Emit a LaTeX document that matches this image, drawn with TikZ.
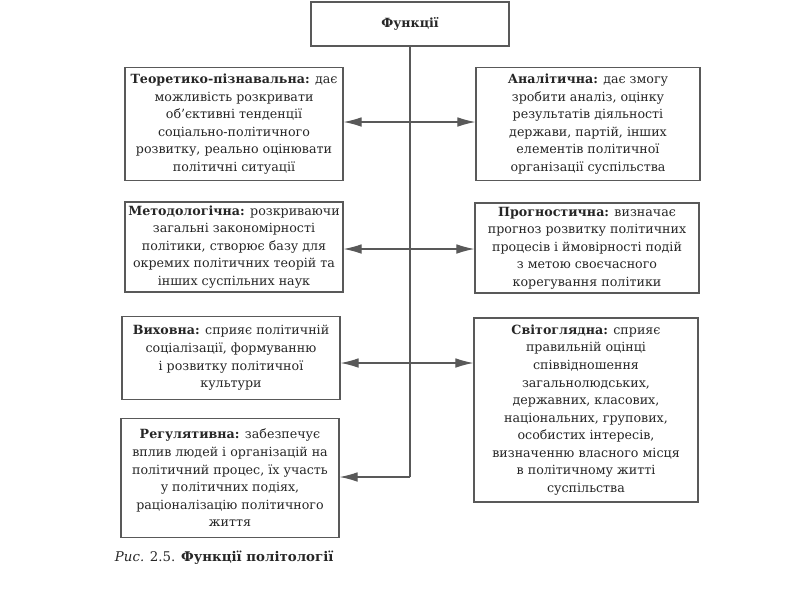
\documentclass[tikz,border=0pt]{standalone}
\usepackage{fontspec}
\setmainfont{DejaVu Serif}
\usepackage{tikz}
\usetikzlibrary{arrows.meta, positioning, calc}
\tikzset{
	func/.style={rectangle, draw=black!65, line width=0.8pt, text=black!85, align=center,
		inner sep=2pt, font=\fontsize{9}{12.5}\selectfont},
	leftfunc/.style={func, minimum width=5.45cm},
	rightfunc/.style={func, minimum width=5.6cm},
	head/.style={func, minimum width=4.95cm, minimum height=1.1cm, font=\fontsize{9}{12.5}\selectfont\bfseries},
	caption/.style={text=black!85, font=\fontsize{9.5}{12}\selectfont},
	line/.style={draw=black!65, line width=0.8pt},
	tip/.style={-{Latex[length=4.5mm,width=2.4mm]}},
	link/.style={line, {Latex[length=4.5mm,width=2.4mm]}-{Latex[length=4.5mm,width=2.4mm]}}
}

\begin{document}
\begin{tikzpicture}[x=0.025cm, y=-0.025cm]
	\useasboundingbox (0,0) rectangle (800,600);
	% Head
	\node[head] (top) at (410,24) {Функції};
	
	% Left column
	\node[leftfunc, minimum height=2.83cm] (L-1) at (234,124) {\textbf{Теоретико-пізнавальна:} дає\\можливість розкривати\\об’єктивні тенденції\\соціально-політичного\\розвитку, реально оцінювати\\політичні ситуації};
	\node[leftfunc, minimum height=2.25cm] (L-2) at (234,247) {\textbf{Методологічна:} розкриваючи\\загальні закономірності\\політики, створює базу для\\окремих політичних теорій та\\інших суспільних наук};
	\node[leftfunc, minimum height=2.08cm] (L-3) at (231,358) {\textbf{Виховна:} сприяє політичній\\соціалізації, формуванню\\і розвитку політичної\\культури};
	\node[leftfunc, minimum height=2.98cm] (L-4) at (230,478) {\textbf{Регулятивна:} забезпечує\\вплив людей і організацій на\\політичний процес, їх участь\\у політичних подіях,\\раціоналізацію політичного\\життя};
	
	% Right column
	\node[rightfunc, minimum height=2.83cm] (R-1) at (588,124) {\textbf{Аналітична:} дає змогу\\зробити аналіз, оцінку\\результатів діяльності\\держави, партій, інших\\елементів політичної\\організації суспільства};
	\node[rightfunc, minimum height=2.25cm] (R-2) at (587,248) {\textbf{Прогностична:} визначає\\прогноз розвитку політичних\\процесів і ймовірності подій\\з метою своєчасного\\корегування політики};
	\node[rightfunc, minimum height=4.6cm] (R-3) at (586,410) {\textbf{Світоглядна:} сприяє\\правильній оцінці\\співвідношення\\загальнолюдських,\\державних, класових,\\національних, групових,\\особистих інтересів,\\визначенню власного місця\\в політичному житті\\суспільства};
	
	% Caption
	\node[caption, anchor=west] (cap) at (110,558) {\textit{Рис.} 2.5. \textbf{Функції політології}};
	
	% Spine
	\coordinate (s1) at (410,122);
	\coordinate (s2) at (410,249);
	\coordinate (s3) at (410,363);
	\coordinate (s4) at (410,477);
	\draw[line] (top.south) -- (s4);
	
	% Connections
	\foreach \i in {1,...,3}
	\draw[link] (s\i -| L-\i.east) -- (s\i -| R-\i.west);
	\draw[line, tip] (s4) -- (s4 -| L-4.east);
\end{tikzpicture}
\end{document}
